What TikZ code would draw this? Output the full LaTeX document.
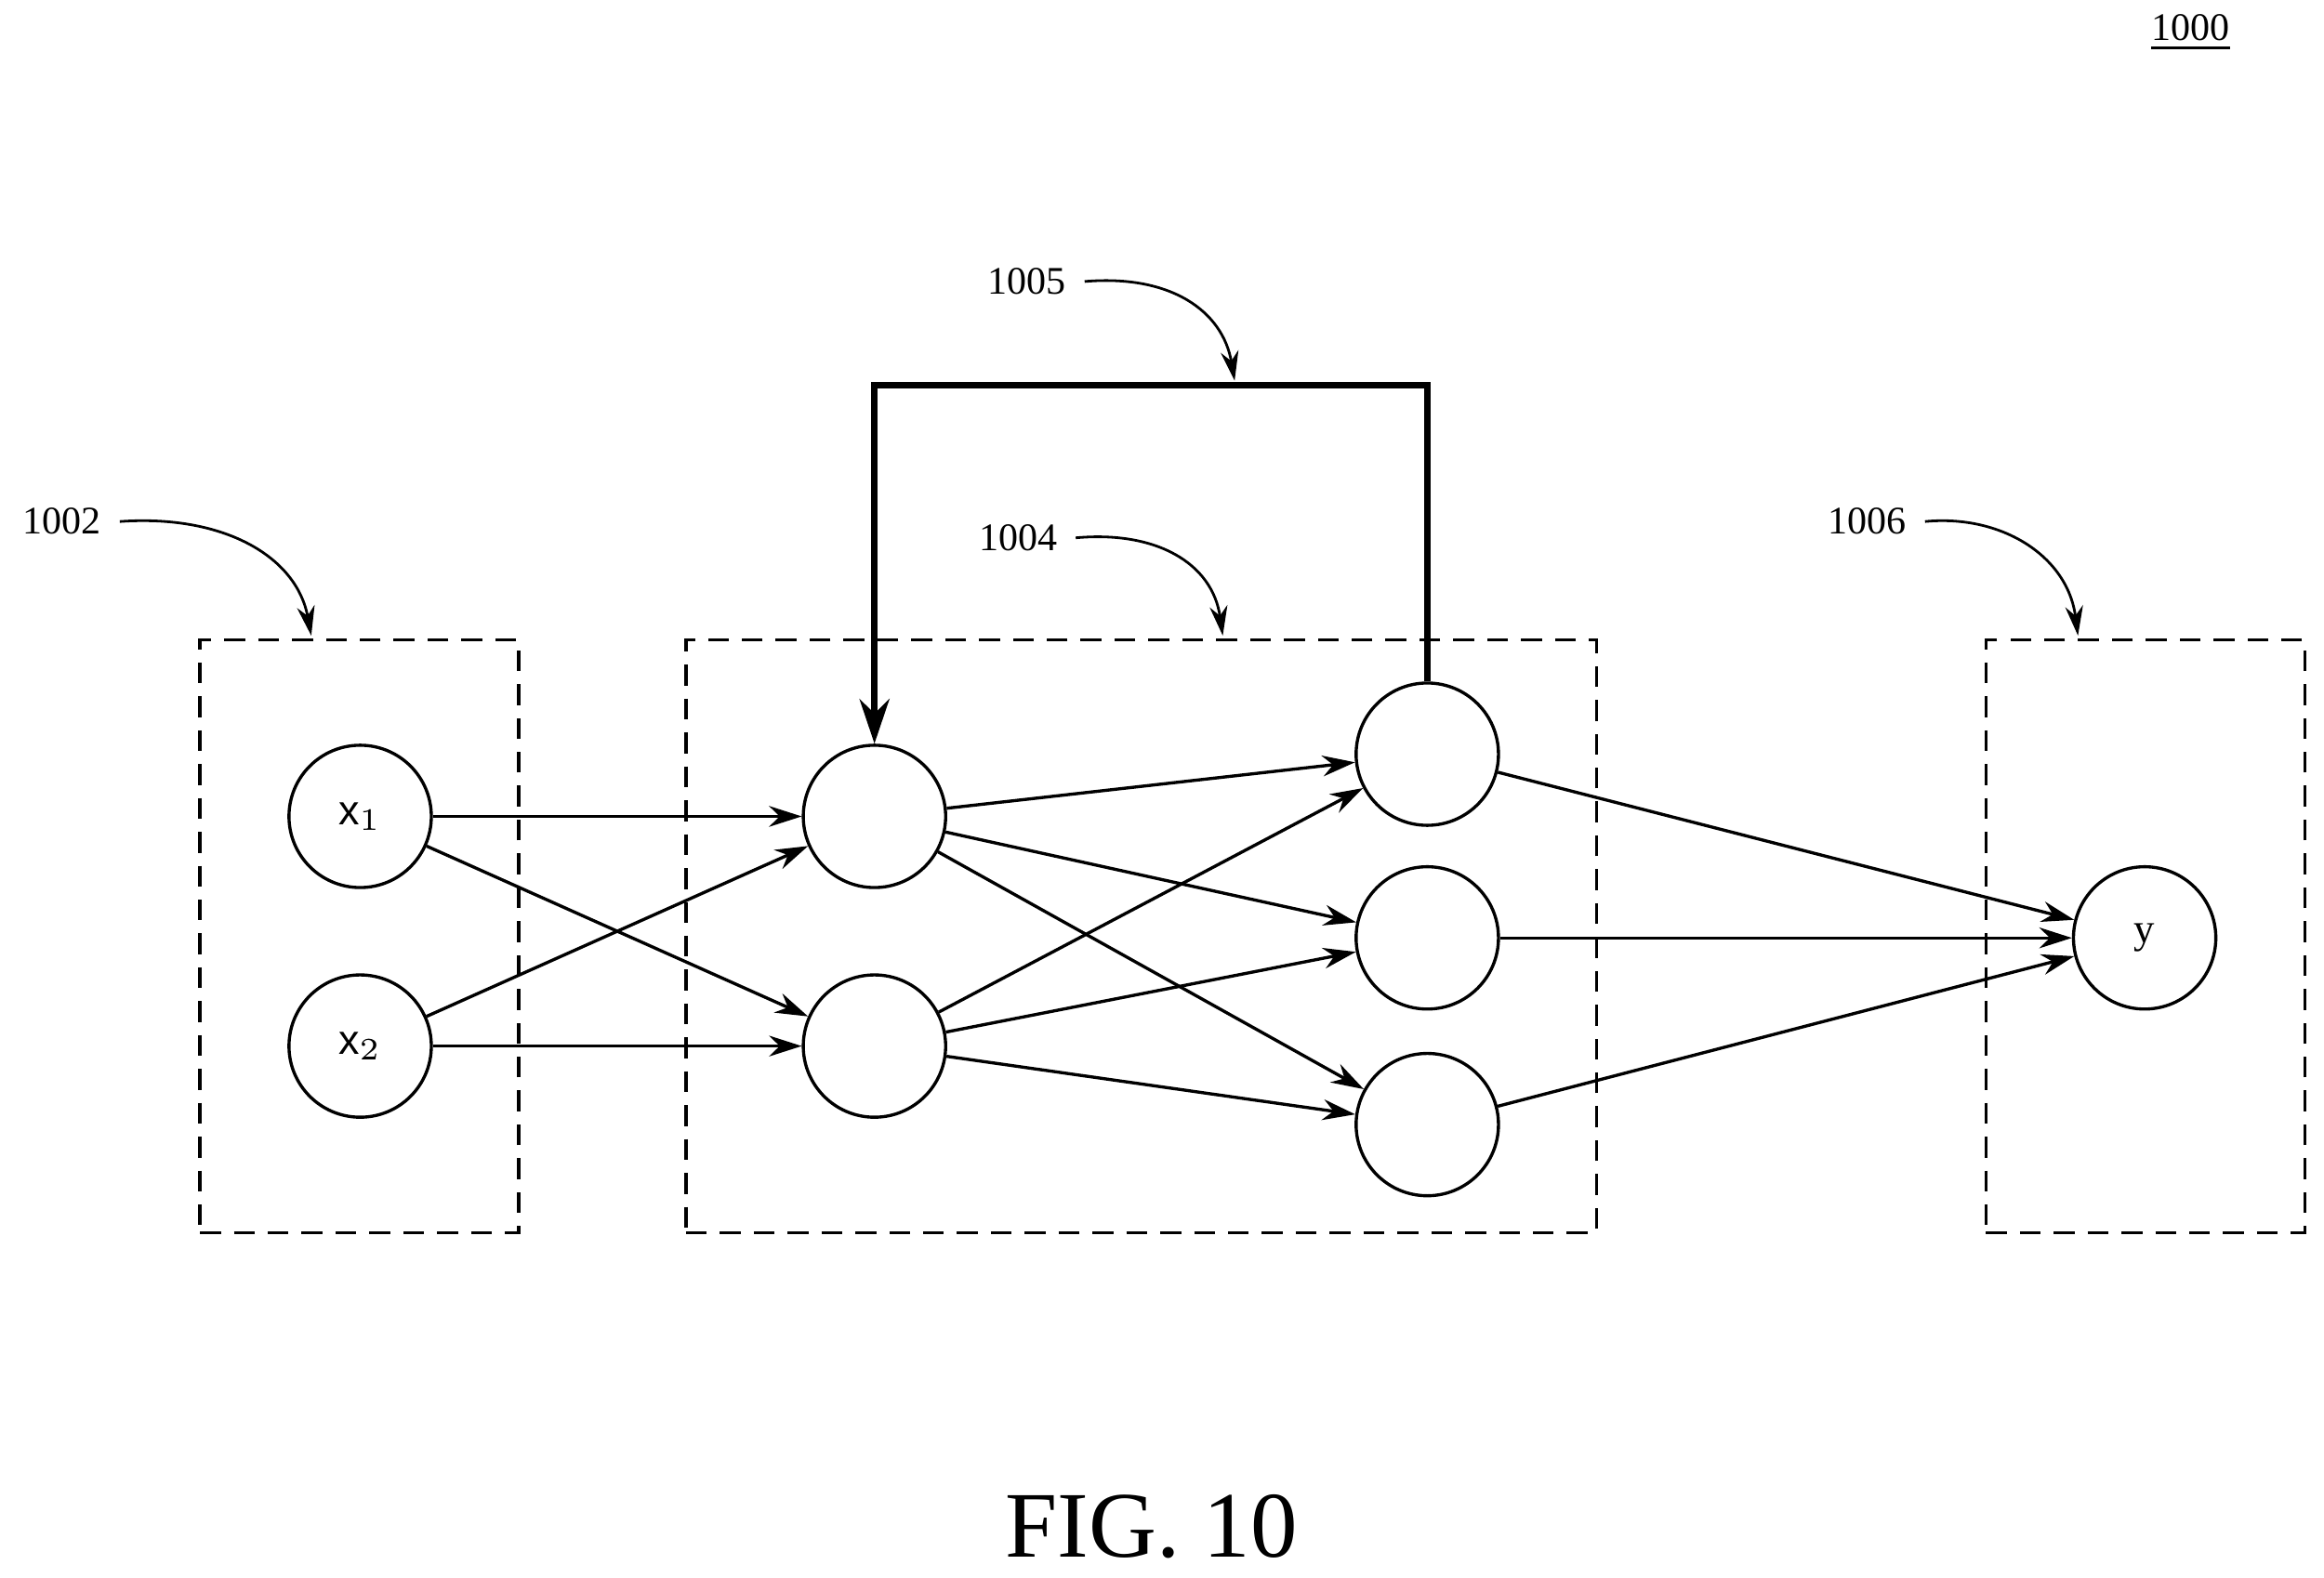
\documentclass[tikz,border=0pt]{standalone}
\usepackage{fontspec}
\setmainfont{Liberation Serif}
\newfontfamily\arialf{Liberation Sans}
\usetikzlibrary{arrows.meta}
\begin{document}
\begin{tikzpicture}[x=0.01cm,y=-0.01cm,
  neuron/.style={circle,draw,line width=0.6pt,minimum size=0.96cm,inner sep=0pt},
  grp/.style={draw,dashed,line width=0.6pt,dash pattern=on 4pt off 2.5pt},
  conn/.style={line width=0.6pt,-{Stealth[length=0.22cm,width=0.14cm]}},
  ref/.style={font=\fontsize{7.5pt}{9pt}\selectfont},
  lead/.style={line width=0.5pt,-{Stealth[length=0.2cm,width=0.12cm]}}]
\useasboundingbox (0,0) rectangle (1568,1065);
\node[ref] (n1000) at (1478,22) {\underline{1000}};
\node[grp,minimum width=2.15cm,minimum height=4cm] (b1002) at (242.5,632) {};
\node[grp,minimum width=6.14cm,minimum height=4cm] (b1004) at (770,632) {};
\node[grp,minimum width=2.15cm,minimum height=4cm] (b1006) at (1447.5,632) {};
\node[neuron,font=\arialf\fontsize{8pt}{9pt}\selectfont] (x1) at (243,551) {x$_1$};
\node[neuron,font=\arialf\fontsize{8pt}{9pt}\selectfont] (x2) at (243,706) {x$_2$};
\node[neuron] (h1) at (590,551) {};
\node[neuron] (h2) at (590,706) {};
\node[neuron] (o1) at (963,509) {};
\node[neuron] (o2) at (963,633) {};
\node[neuron] (o3) at (963,759) {};
\node[neuron,font=\fontsize{8pt}{9pt}\selectfont] (y) at (1447,633) {y};
\foreach \a/\b in {x1/h1,x1/h2,x2/h1,x2/h2,h1/o1,h1/o2,h1/o3,h2/o1,h2/o2,h2/o3,o1/y,o2/y,o3/y}
  \draw[conn] (\a) -- (\b);
\coordinate (fb) at (835,260);
\draw[line width=1.3pt,-{Stealth[length=0.3cm,width=0.2cm]}] (o1.north) -- (963,260) -- (590,260) -- (h1.north);
\node[ref] (l1005) at (693,190) {1005};
\node[ref] (l1004) at (687,363) {1004};
\node[ref] (l1002) at (42,352) {1002};
\node[ref] (l1006) at (1260,352) {1006};
\coordinate (t1005) at (833,257);
\coordinate (t1004) at (825,429);
\coordinate (t1002) at (210,429);
\coordinate (t1006) at (1402,429);
\draw[lead] (l1005.east) .. controls (790,185) and (825,210) .. (t1005);
\draw[lead] (l1004.east) .. controls (780,358) and (818,380) .. (t1004);
\draw[lead] (l1002.east) .. controls (150,347) and (200,375) .. (t1002);
\draw[lead] (l1006.east) .. controls (1350,347) and (1395,375) .. (t1006);
\node[font=\fontsize{18pt}{20pt}\selectfont] (fig) at (777,1030) {FIG. 10};
\end{tikzpicture}
\end{document}
